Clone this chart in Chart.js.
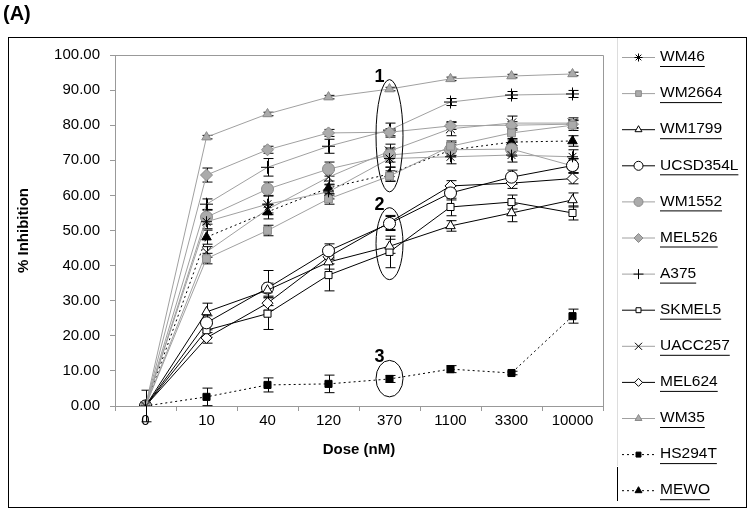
<!DOCTYPE html>
<html>
<head>
<meta charset="utf-8">
<script src="https://cdn.jsdelivr.net/npm/chart.js@4.4.0/dist/chart.umd.min.js"></script>
<style>
html, body { margin: 0; padding: 0; background: #fff; }
</style>
</head>
<body>
<canvas id="myChart" width="750" height="513"></canvas>
<script>
var FONT = "Arial, 'Liberation Sans', sans-serif";
var GREY = "#a0a0a0";
var GREYFILL = "#ababab";

// doses (nM)
var doses = ["0", "10", "40", "120", "370", "1100", "3300", "10000"];
var yTicks = [0, 10, 20, 30, 40, 50, 60, 70, 80, 90, 100];

// % inhibition per cell line
var wm46 = [0, 52.5, 57.5, 61, 70.5, 71, 71.5, 71];
var wm2664 = [0, 42, 50, 59, 65.5, 74, 77.8, 80];
var wm1799 = [0, 26.8, 33, 41, 45.5, 51.3, 55, 58.7];
var ucsd354l = [0, 23.7, 33.6, 44.2, 52, 60.7, 65.2, 68.5];
var wm1552 = [0, 53.8, 61.8, 67.5, 71.5, 73, 73.2, 68.4];
var mel526 = [0, 65.8, 73, 77.8, 78, 79.8, 80, 80.3];
var a375 = [0, 57.5, 68, 74, 78.6, 86.6, 88.6, 88.9];
var skmel5 = [0, 21.6, 26.3, 37.3, 43.9, 56.7, 58.1, 55];
var uacc257 = [0, 43.9, 56, 65.2, 72.6, 79, 80.6, 80.6];
var mel624 = [0, 19.4, 29.3, 42.5, 52.3, 62.7, 63.5, 64.8];
var wm35 = [0, 76.6, 83.2, 88, 90.3, 93.2, 94, 94.6];
var hs294t = [0, 2.6, 6.0, 6.3, 7.7, 10.5, 9.4, 25.6];
var mewo = [0, 48.1, 55.3, 62.1, 66.1, 72.9, 75.2, 75.5];

// error bars (+/-)
var wm46Err = [0, 2, 2.5, 2, 2.5, 2, 2, 2];
var wm2664Err = [0, 1.5, 1.5, 1.5, 1.5, 1.5, 2, 1.5];
var wm1799Err = [4.5, 2.5, 2, 2, 2, 1.5, 2.5, 2];
var ucsd354lErr = [0, 2, 5, 2, 2, 2, 2, 2];
var wm1552Err = [0, 2, 2, 2, 2, 2, 2, 2];
var mel526Err = [0, 2, 1, 1, 1, 1, 1, 1];
var a375Err = [0, 1.5, 2.5, 2, 2, 1, 1, 1];
var skmel5Err = [0, 2, 4.5, 4.5, 4.5, 2.5, 2, 2];
var uacc257Err = [0, 1.5, 1.5, 2, 2, 2, 2, 1.5];
var mel624Err = [0, 1.5, 2, 2, 2, 1.5, 1.5, 1.5];
var wm35Err = [0, 0.5, 0.5, 0.5, 0.5, 0.5, 0.5, 0.5];
var hs294tErr = [0, 2.5, 2, 2.5, 1, 1, 0.5, 2];
var mewoErr = [0, 2, 2, 2, 2, 1.5, 1, 1.5];

// circled groups at 370 nM
var groups = [
  { label: "1", lo: 61, hi: 93 },
  { label: "2", lo: 36, hi: 56.5 },
  { label: "3", lo: 2.6, hi: 13 }
];

function series(label, data, err, line, style, fill, stroke, radius, dash) {
  return {
    label: label,
    data: data,
    err: err,
    borderColor: line,
    borderWidth: 1,
    borderDash: dash || [],
    pointStyle: style,
    pointBackgroundColor: fill,
    pointBorderColor: stroke,
    pointBorderWidth: 1,
    pointRadius: radius,
    pointHoverRadius: radius,
    fill: false,
    tension: 0
  };
}

// error bars
var errorBars = {
  id: "errorBars",
  beforeDatasetsDraw: function (chart) {
    var ctx = chart.ctx, y = chart.scales.y;
    ctx.save();
    ctx.strokeStyle = "#000";
    ctx.lineWidth = 1;
    chart.data.datasets.forEach(function (ds, i) {
      var meta = chart.getDatasetMeta(i);
      meta.data.forEach(function (pt, j) {
        var e = ds.err[j];
        if (!e) return;
        var x = Math.round(pt.x) + 0.5;
        var top = y.getPixelForValue(ds.data[j] + e);
        var bot = y.getPixelForValue(ds.data[j] - e);
        ctx.beginPath();
        ctx.moveTo(x, top); ctx.lineTo(x, bot);
        ctx.moveTo(x - 5, top); ctx.lineTo(x + 5, top);
        ctx.moveTo(x - 5, bot); ctx.lineTo(x + 5, bot);
        ctx.stroke();
      });
    });
    ctx.restore();
  }
};

// frame, ellipses, legend, panel label
var decorations = {
  id: "decorations",
  afterDraw: function (chart) {
    var ctx = chart.ctx, a = chart.chartArea;
    var xs = chart.scales.x, ys = chart.scales.y;
    ctx.save();

    ctx.strokeStyle = "#000";
    ctx.lineWidth = 1;
    ctx.strokeRect(8.5, 37.5, 738, 470);

    ctx.strokeStyle = "#999";
    ctx.beginPath();
    ctx.moveTo(a.left, a.top + 0.5); ctx.lineTo(a.right + 0.5, a.top + 0.5);
    ctx.lineTo(a.right + 0.5, a.bottom);
    ctx.stroke();

    ctx.strokeStyle = "#ddd";
    ctx.beginPath();
    ctx.moveTo(617.5, 38); ctx.lineTo(617.5, 466);
    ctx.stroke();
    ctx.strokeStyle = "#000";
    ctx.beginPath();
    ctx.moveTo(617.5, 467); ctx.lineTo(617.5, 501);
    ctx.stroke();

    ctx.fillStyle = "#000";
    ctx.font = "bold 20px " + FONT;
    ctx.textAlign = "left";
    ctx.textBaseline = "middle";
    ctx.fillText("(A)", 3, 14);

    var cx = xs.getPixelForValue(4);
    groups.forEach(function (g) {
      var t = ys.getPixelForValue(g.hi), b = ys.getPixelForValue(g.lo);
      ctx.strokeStyle = "#000";
      ctx.beginPath();
      ctx.ellipse(cx, (t + b) / 2, 13.5, (b - t) / 2, 0, 0, Math.PI * 2);
      ctx.stroke();
      ctx.font = "bold 18px " + FONT;
      ctx.textAlign = "center";
      ctx.fillText(g.label, cx - 10, t - 3);
    });

    ctx.font = "15.5px " + FONT;
    ctx.textAlign = "left";
    chart.data.datasets.forEach(function (ds, i) {
      var ry = 57 + i * 36.1;
      ctx.strokeStyle = ds.borderColor;
      ctx.setLineDash(ds.borderDash);
      ctx.beginPath();
      ctx.moveTo(622, ry + 0.5); ctx.lineTo(655, ry + 0.5);
      ctx.stroke();
      ctx.setLineDash([]);
      ctx.fillStyle = ds.pointBackgroundColor;
      ctx.strokeStyle = ds.pointBorderColor;
      Chart.helpers.drawPoint(ctx, {
        pointStyle: ds.pointStyle, radius: Math.max(ds.pointRadius - 1.5, 3),
        borderWidth: 1, rotation: 0
      }, 638.5, ry + 0.5);
      ctx.fillStyle = "#000";
      ctx.fillText(ds.label, 660, ry);
      var w = ctx.measureText(ds.label).width;
      ctx.strokeStyle = "#000";
      ctx.beginPath();
      ctx.moveTo(660, ry + 9.5); ctx.lineTo(660 + w, ry + 9.5);
      ctx.stroke();
    });
    ctx.restore();
  }
};

Chart.defaults.font.family = FONT;
Chart.defaults.color = "#000";

new Chart(document.getElementById("myChart"), {
  type: "line",
  data: {
    labels: doses,
    datasets: [
      series("WM46", wm46, wm46Err, GREY, "star", "#000", "#000", 5.5),
      series("WM2664", wm2664, wm2664Err, GREY, "rect", GREYFILL, "#8a8a8a", 5.5),
      series("WM1799", wm1799, wm1799Err, "#000", "triangle", "#fff", "#000", 5.5),
      series("UCSD354L", ucsd354l, ucsd354lErr, "#000", "circle", "#fff", "#000", 6),
      series("WM1552", wm1552, wm1552Err, GREY, "circle", GREYFILL, "#8a8a8a", 6),
      series("MEL526", mel526, mel526Err, GREY, "rectRot", GREYFILL, "#8a8a8a", 6),
      series("A375", a375, a375Err, GREY, "cross", "#000", "#000", 6.5),
      series("SKMEL5", skmel5, skmel5Err, "#000", "rect", "#fff", "#000", 5),
      series("UACC257", uacc257, uacc257Err, GREY, "crossRot", "#000", "#000", 6.5),
      series("MEL624", mel624, mel624Err, "#000", "rectRot", "#fff", "#000", 5.5),
      series("WM35", wm35, wm35Err, GREY, "triangle", GREYFILL, "#8a8a8a", 5.5),
      series("HS294T", hs294t, hs294tErr, "#000", "rect", "#000", "#000", 5, [2, 3]),
      series("MEWO", mewo, mewoErr, "#000", "triangle", "#000", "#000", 5.5, [2, 3])
    ]
  },
  options: {
    responsive: false,
    animation: false,
    layout: { padding: { left: 10, right: 147, top: 55, bottom: 10 } },
    plugins: {
      legend: { display: false },
      tooltip: { enabled: false }
    },
    scales: {
      x: {
        offset: true,
        ticks: { color: "#000", font: { size: 15 }, padding: 1, maxRotation: 0 },
        grid: { offset: true, drawOnChartArea: false, tickLength: 5, color: "#999" },
        border: { color: "#999" },
        title: {
          display: true, text: "Dose (nM)", color: "#000",
          font: { size: 15, weight: "bold" }, padding: { top: 0, bottom: 44 }
        },
        afterFit: function (s) { s.height = 97; }
      },
      y: {
        min: 0,
        max: 100,
        afterBuildTicks: function (s) { s.ticks = yTicks.map(function (v) { return { value: v }; }); },
        ticks: {
          color: "#000", font: { size: 15 }, padding: 10,
          callback: function (v) { return Number(v).toFixed(2); }
        },
        grid: { drawOnChartArea: false, tickLength: 5, color: "#999" },
        border: { color: "#999" },
        title: {
          display: true, text: "% Inhibition", color: "#000",
          font: { size: 15, weight: "bold" }, padding: { top: 5, bottom: 0 }
        },
        afterFit: function (s) { s.width = 105; }
      }
    }
  },
  plugins: [errorBars, decorations]
});
</script>
</body>
</html>
